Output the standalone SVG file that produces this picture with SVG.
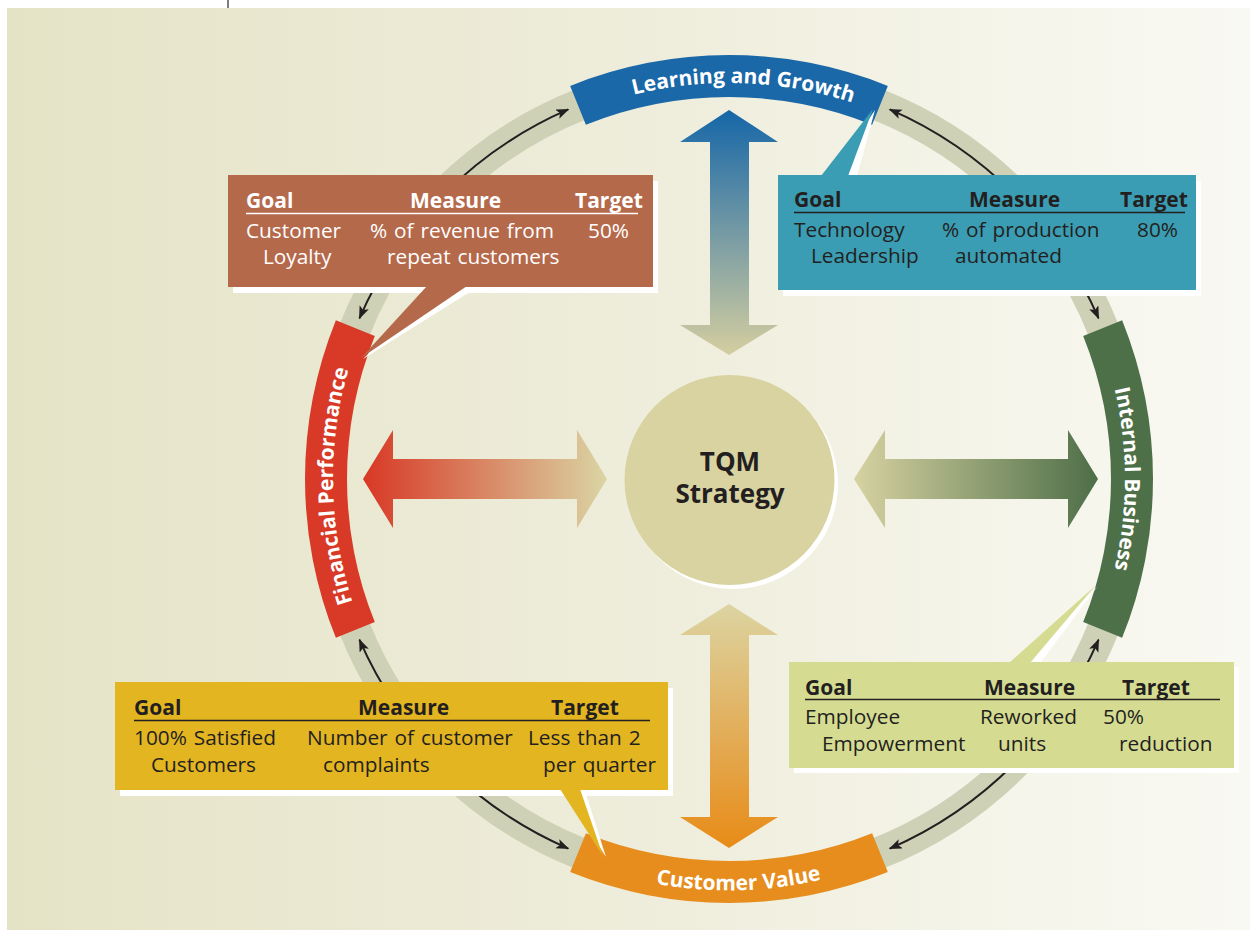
<svg xmlns="http://www.w3.org/2000/svg" xmlns:xlink="http://www.w3.org/1999/xlink" width="1250" height="930" viewBox="0 0 1250 930">
<style>
.band-label{font-family:"Open Sans","Liberation Sans",sans-serif;font-weight:700;font-size:21px;fill:#ffffff;}
.hd{font-family:"Open Sans","Liberation Sans",sans-serif;font-weight:700;font-size:21px;}
.tx{font-family:"Open Sans","Liberation Sans",sans-serif;font-size:20.8px;word-spacing:1.5px;}
.dark{fill:#231f20;}
.light{fill:#ffffff;}
.ring-arrow{fill:none;stroke:#231f20;stroke-width:2;marker-end:url(#head);}
.shadow{fill:#ffffff;}
.center-text{font-family:"Open Sans","Liberation Sans",sans-serif;font-weight:700;font-size:26px;fill:#231f20;}
</style>
<defs>
<linearGradient id="bg" x1="0" y1="0" x2="1" y2="0">
<stop offset="0" stop-color="#e5e3c6"/>
<stop offset="0.5" stop-color="#eeeddb"/>
<stop offset="1" stop-color="#f9f9f3"/>
</linearGradient>
<linearGradient id="gTop" gradientUnits="userSpaceOnUse" x1="0" y1="110" x2="0" y2="355">
<stop offset="0" stop-color="#1566a8"/>
<stop offset="1" stop-color="#d4cea0"/>
</linearGradient>
<linearGradient id="gBottom" gradientUnits="userSpaceOnUse" x1="0" y1="604" x2="0" y2="848">
<stop offset="0" stop-color="#dcd4a2"/>
<stop offset="1" stop-color="#e88b17"/>
</linearGradient>
<linearGradient id="gLeft" gradientUnits="userSpaceOnUse" x1="363" y1="0" x2="607" y2="0">
<stop offset="0" stop-color="#d83825"/>
<stop offset="1" stop-color="#dad5a4"/>
</linearGradient>
<linearGradient id="gRight" gradientUnits="userSpaceOnUse" x1="854" y1="0" x2="1098" y2="0">
<stop offset="0" stop-color="#d7d2a1"/>
<stop offset="1" stop-color="#4d6e48"/>
</linearGradient>
<marker id="head" markerUnits="userSpaceOnUse" markerWidth="14" markerHeight="12" refX="12" refY="5" orient="auto">
<path d="M0,0 L13,5 L0,10 L3,5 Z" fill="#231f20"/>
</marker>
<path id="pTop" d="M 531 136.06 A 396 396 0 0 1 927 136.06"/>
<path id="pLeft" d="M 386.06 677 A 396 396 0 0 1 386.06 281"/>
<path id="pRight" d="M 1071.94 281 A 396 396 0 0 1 1071.94 677"/>
<path id="pBottom" d="M 525.5 835.8 A 407 407 0 0 0 932.5 835.8"/>
</defs>

<g id="background">
<rect x="0" y="0" width="1250" height="930" fill="#ffffff"/>
<rect x="7" y="8" width="1243" height="922" fill="url(#bg)"/>
<line x1="228" y1="0" x2="228" y2="8" stroke="#555555" stroke-width="1.5"/>
</g>

<g id="ring">
<circle cx="729" cy="479" r="403" fill="none" stroke="#cfd1b6" stroke-width="32"/>
</g>

<g id="connectors">
<path class="ring-arrow" d="M 444.04 194.04 A 403 403 0 0 1 568.30 109.43"/>
<path class="ring-arrow" d="M 444.04 194.04 A 403 403 0 0 0 359.43 318.30"/>
<path class="ring-arrow" d="M 1013.96 194.04 A 403 403 0 0 0 889.70 109.43"/>
<path class="ring-arrow" d="M 1013.96 194.04 A 403 403 0 0 1 1098.57 318.30"/>
<path class="ring-arrow" d="M 1013.96 763.96 A 403 403 0 0 0 1098.57 639.70"/>
<path class="ring-arrow" d="M 1013.96 763.96 A 403 403 0 0 1 889.70 848.57"/>
<path class="ring-arrow" d="M 444.04 763.96 A 403 403 0 0 0 568.30 848.57"/>
<path class="ring-arrow" d="M 444.04 763.96 A 403 403 0 0 1 359.43 639.70"/>
<polygon id="arrow-top" fill="url(#gTop)" points="729,110 680,142 710,142 710,325 680,325 729,355 778,325 749,325 749,142 778,142"/>
<polygon id="arrow-bottom" fill="url(#gBottom)" points="729,604 680,635 710,635 710,817 680,817 729,848 778,817 749,817 749,635 778,635"/>
<polygon id="arrow-left" fill="url(#gLeft)" points="363,479 393,430 393,459 577,459 577,430 607,479 577,528 577,499 393,499 393,528"/>
<polygon id="arrow-right" fill="url(#gRight)" points="854,479 885,430 885,459 1068,459 1068,430 1098,479 1068,528 1068,499 885,499 885,528"/>
</g>

<g id="learning-growth">
<path fill="#1a68a7" d="M 570.17 85.88 A 424 424 0 0 1 887.83 85.88 L 872.10 124.82 A 382 382 0 0 0 585.90 124.82 Z"/>
<text class="band-label"><textPath xlink:href="#pTop" href="#pTop" startOffset="53.5%" text-anchor="middle">Learning and Growth</textPath></text>
</g>

<g id="internal-business">
<path fill="#4e7049" d="M 1122.12 320.17 A 424 424 0 0 1 1122.12 637.83 L 1083.18 622.10 A 382 382 0 0 0 1083.18 335.90 Z"/>
<text class="band-label"><textPath xlink:href="#pRight" href="#pRight" startOffset="50%" text-anchor="middle">Internal Business</textPath></text>
</g>

<g id="customer-value">
<path fill="#e68d1e" d="M 887.83 872.12 A 424 424 0 0 1 570.17 872.12 L 585.90 833.18 A 382 382 0 0 0 872.10 833.18 Z"/>
<text class="band-label"><textPath xlink:href="#pBottom" href="#pBottom" startOffset="52.3%" text-anchor="middle">Customer Value</textPath></text>
</g>

<g id="financial-performance">
<path fill="#d83a27" d="M 335.88 637.83 A 424 424 0 0 1 335.88 320.17 L 374.82 335.90 A 382 382 0 0 0 374.82 622.10 Z"/>
<text class="band-label"><textPath xlink:href="#pLeft" href="#pLeft" startOffset="48.3%" text-anchor="middle">Financial Performance</textPath></text>
</g>

<g id="tqm-strategy">
<circle cx="733" cy="484" r="105" fill="#ffffff"/>
<circle cx="729.5" cy="480" r="105" fill="#d9d3a2"/>
<text class="center-text" x="730" y="471" text-anchor="middle">TQM</text>
<text class="center-text" x="730" y="503" text-anchor="middle">Strategy</text>
</g>

<g id="box-financial">
<rect class="shadow" x="233" y="181" width="425" height="112"/>
<polygon class="shadow" points="433,290 473,290 363,359"/>
<rect x="228" y="175" width="425" height="112" fill="#b5694b"/>
<polygon fill="#b5694b" points="427,286 467,286 361,358"/>
<text class="hd light" x="246" y="208">Goal</text>
<text class="hd light" x="410" y="208">Measure</text>
<text class="hd light" x="575" y="208">Target</text>
<line x1="246" y1="213.5" x2="638" y2="213.5" stroke="#ffffff" stroke-width="1.5"/>
<text class="tx light" x="246" y="238">Customer</text>
<text class="tx light" x="370" y="238">% of revenue from</text>
<text class="tx light" x="588" y="238">50%</text>
<text class="tx light" x="263" y="264">Loyalty</text>
<text class="tx light" x="387" y="264">repeat customers</text>
</g>

<g id="box-learning">
<rect class="shadow" x="783" y="181" width="418" height="115"/>
<polygon class="shadow" points="828,180 856,180 875,110"/>
<rect x="778" y="175" width="418" height="115" fill="#3a9db3"/>
<polygon fill="#3a9db3" points="821,176 848,176 873,109"/>
<text class="hd dark" x="794" y="207">Goal</text>
<text class="hd dark" x="969" y="207">Measure</text>
<text class="hd dark" x="1120" y="207">Target</text>
<line x1="794" y1="212.5" x2="1185" y2="212.5" stroke="#231f20" stroke-width="1.5"/>
<text class="tx dark" x="794" y="237">Technology</text>
<text class="tx dark" x="942" y="237">% of production</text>
<text class="tx dark" x="1137" y="237">80%</text>
<text class="tx dark" x="811" y="263">Leadership</text>
<text class="tx dark" x="955" y="263">automated</text>
</g>

<g id="box-customer">
<rect class="shadow" x="120" y="688" width="553" height="108"/>
<polygon class="shadow" points="566,794 586,794 606,857"/>
<rect x="115" y="682" width="553" height="108" fill="#e3b521"/>
<polygon fill="#e3b521" points="560,789 580,789 603,856"/>
<text class="hd dark" x="134" y="715">Goal</text>
<text class="hd dark" x="358" y="715">Measure</text>
<text class="hd dark" x="551" y="715">Target</text>
<line x1="134" y1="720.5" x2="650" y2="720.5" stroke="#231f20" stroke-width="1.5"/>
<text class="tx dark" x="134" y="745">100% Satisfied</text>
<text class="tx dark" x="307" y="745">Number of customer</text>
<text class="tx dark" x="528" y="745">Less than 2</text>
<text class="tx dark" x="151" y="772">Customers</text>
<text class="tx dark" x="323" y="772">complaints</text>
<text class="tx dark" x="543" y="772">per quarter</text>
</g>

<g id="box-internal">
<rect class="shadow" x="794" y="667" width="445" height="106"/>
<polygon class="shadow" points="1017,666 1038,666 1097,587"/>
<rect x="789" y="662" width="445" height="106" fill="#d5dc92"/>
<polygon fill="#d5dc92" points="1009,663 1030,663 1095,586"/>
<text class="hd dark" x="805" y="695">Goal</text>
<text class="hd dark" x="984" y="695">Measure</text>
<text class="hd dark" x="1122" y="695">Target</text>
<line x1="805" y1="699.5" x2="1220" y2="699.5" stroke="#231f20" stroke-width="1.5"/>
<text class="tx dark" x="805" y="724">Employee</text>
<text class="tx dark" x="980" y="724">Reworked</text>
<text class="tx dark" x="1103" y="724">50%</text>
<text class="tx dark" x="822" y="751">Empowerment</text>
<text class="tx dark" x="998" y="751">units</text>
<text class="tx dark" x="1119" y="751">reduction</text>
</g>
</svg>
